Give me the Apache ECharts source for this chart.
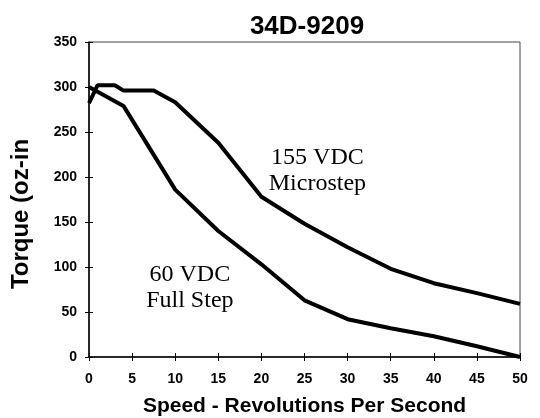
<!DOCTYPE html>
<html>
<head>
<meta charset="utf-8">
<script src="https://cdn.jsdelivr.net/npm/echarts@6/dist/echarts.min.js"></script>
<style>html,body{margin:0;padding:0;background:#fff;}#c{width:540px;height:418px;}</style>
</head>
<body>
<div id="c"></div>
<script>
var titleText = '34D-9209';
var xTitle = 'Speed - Revolutions Per Second';
var yTitle = 'Torque (oz-in';
var microLabel = '155 VDC\nMicrostep';
var fullLabel = '60 VDC\nFull Step';

var microSpeed  = [0, 1, 3, 4, 7.5, 10, 15, 20, 25, 30, 35, 40, 45, 50];
var microTorque = [282, 302, 302, 296, 296, 283, 238, 178, 148, 122, 98, 82, 71, 59];

var fullSpeed  = [0, 4, 10, 15, 20, 25, 30, 35, 40, 45, 50];
var fullTorque = [300, 279, 186, 140, 103, 63, 42, 32, 23, 12, 0];

var microLabelPos = [26.5, 206];
var fullLabelPos = [11.7, 76];

function pairs(xs, ys){ return xs.map(function(x,i){ return [x, ys[i]]; }); }

var chart = echarts.init(document.getElementById('c'));
var sans = 'Liberation Sans, Arial, sans-serif';
var axisFont = {fontFamily:sans, fontWeight:'bold', fontSize:14, color:'#000'};
chart.setOption({
  animation:false,
  backgroundColor:'#fff',
  title:{text:titleText, left:302, textAlign:'center', top:9,
    textStyle:{fontFamily:sans, fontWeight:'bold', fontSize:26, color:'#000'}},
  grid:{left:89, right:20, top:42, bottom:61, containLabel:false, outerBoundsMode:'none',
    show:true, borderColor:'#444', borderWidth:1, backgroundColor:'transparent'},
  graphic:[{type:'text', x:21, y:214, rotation:Math.PI/2,
    style:{text:yTitle, fill:'#000', font:'bold 24px ' + sans, textAlign:'center', textVerticalAlign:'middle'}}],
  xAxis:[{type:'value', min:0, max:50, interval:5,
    name:xTitle, nameLocation:'middle', nameGap:39,
    nameTextStyle:{fontFamily:sans, fontWeight:'bold', fontSize:21, color:'#000'},
    axisLine:{lineStyle:{color:'#000', width:1.5}},
    axisTick:{length:4, lineStyle:{color:'#000', width:1}},
    axisLabel:Object.assign({margin:15}, axisFont),
    splitLine:{show:false}},
    {type:'value', min:0, max:50, interval:5, position:'bottom', gridIndex:0,
    axisLine:{show:false}, axisTick:{inside:true, length:4, lineStyle:{color:'#000', width:1}},
    axisLabel:{show:false}, splitLine:{show:false}}],
  yAxis:[{type:'value', min:0, max:350, interval:50,
    axisLine:{show:true, lineStyle:{color:'#000', width:1.5}},
    axisTick:{show:true, length:4, lineStyle:{color:'#000', width:1}},
    axisLabel:Object.assign({margin:12}, axisFont),
    splitLine:{show:false}},
    {type:'value', min:0, max:350, interval:50, position:'left',
    axisLine:{show:false}, axisTick:{show:true, inside:true, length:4, lineStyle:{color:'#000', width:1}},
    axisLabel:{show:false}, splitLine:{show:false}}],
  series:[
    {type:'line', data:pairs(microSpeed, microTorque), showSymbol:false, symbol:'none',
     lineStyle:{color:'#000', width:4}, z:3},
    {type:'line', data:pairs(fullSpeed, fullTorque), showSymbol:false, symbol:'none',
     lineStyle:{color:'#000', width:4}, z:3},
    {type:'scatter', symbolSize:1, itemStyle:{opacity:0}, silent:true,
     data:[{value:microLabelPos, label:{formatter:microLabel}}, {value:fullLabelPos, label:{formatter:fullLabel}}],
     label:{show:true, position:'top', distance:0, align:'center', verticalAlign:'middle',
       fontFamily:'Liberation Serif, Times New Roman, serif', fontSize:24, lineHeight:26, color:'#000', opacity:1}}
  ]
});
</script>
</body>
</html>
